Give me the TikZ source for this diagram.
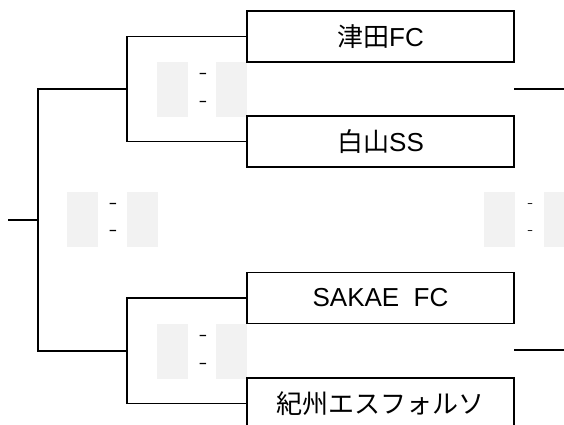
\documentclass[tikz,border=0pt]{standalone}
\usepackage{fontspec}
\setmainfont{Liberation Sans}
\newfontfamily\jp{Noto Sans CJK JP}
\definecolor{scoregray}{HTML}{F2F2F2}
\begin{document}
\begin{tikzpicture}[x=1pt,y=-1pt,
  team/.style={draw=black, line width=1.5pt, minimum width=267pt, minimum height=51pt, inner sep=0pt, font=\fontsize{26}{26}\selectfont},
  conn/.style={draw=black, line width=1.5pt},
  scorebox/.style={fill=scoregray, draw=none, minimum width=31pt, minimum height=55pt, inner sep=0pt},
  scoredash/.style={inner sep=0pt, font=\fontsize{13}{13}\selectfont\bfseries},
  smalldash/.style={inner sep=0pt, font=\fontsize{9}{9}\selectfont\bfseries}]
\useasboundingbox (0,0) rectangle (564,425);
\clip (0,0) rectangle (564,425);
% score boxes
\node[scorebox] (s1a) at (172.5,89.5) {};
\node[scorebox] (s1b) at (231.5,89.5) {};
\node[scoredash] (d1a) at (203,75.5) {–};
\node[scoredash] (d1b) at (203,103) {–};
\node[scorebox] (s2a) at (82.5,219.5) {};
\node[scorebox] (s2b) at (142.5,219.5) {};
\node[scoredash] (d2a) at (113,205) {–};
\node[scoredash] (d2b) at (113,232) {–};
\node[scorebox] (s3a) at (172.5,351.5) {};
\node[scorebox] (s3b) at (231.5,351.5) {};
\node[scoredash] (d3a) at (203,337) {–};
\node[scoredash] (d3b) at (203,365) {–};
\node[scorebox] (s4a) at (499,219.5) {};
\node[scorebox] (s4b) at (559.5,219.5) {};
\node[smalldash] (d4a) at (530,205) {–};
\node[smalldash] (d4b) at (530,232) {–};
% teams
\node[team] (t1) at (380.5,36.5) {{\jp 津田}FC};
\node[team] (t2) at (380.5,141.5) {{\jp 白山}SS};
\node[team] (t3) at (380.5,298) {SAKAE~~FC};
\node[team] (t4) at (380.5,403.5) {\jp 紀州エスフォルソ};
% connectors
\coordinate (q1) at (127,89);
\coordinate (q2) at (127,351);
\coordinate (f) at (38,220);
\coordinate (tail) at (8,220);
\draw[conn] (t1.west) -| (q1) |- (t2.west);
\draw[conn] (t3.west) -| (q2) |- (t4.west);
\draw[conn] (q1) -| (f) |- (q2);
\draw[conn] (f) -- (tail);
\coordinate (r1a) at (514,89);
\coordinate (r1b) at (564,89);
\coordinate (r2a) at (514,350);
\coordinate (r2b) at (564,350);
\draw[conn] (r1a) -- (r1b);
\draw[conn] (r2a) -- (r2b);
\end{tikzpicture}
\end{document}
